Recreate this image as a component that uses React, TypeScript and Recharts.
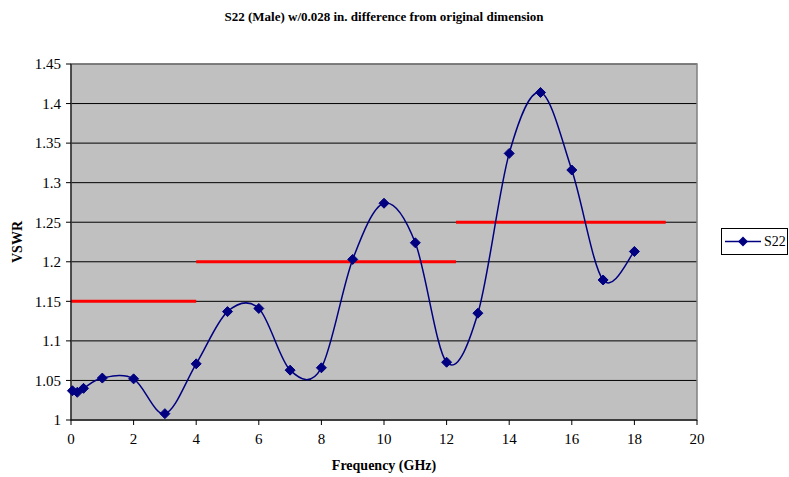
import {
  LineChart,
  Line,
  XAxis,
  YAxis,
  CartesianGrid,
  ReferenceLine,
  ReferenceArea,
  Legend,
} from 'recharts';

const freq = [0.045, 0.2, 0.4, 1, 2, 3, 4, 5, 6, 7, 8, 9, 10, 11, 12, 13, 14, 15, 16, 17, 18];
const vswr = [
  1.037, 1.035, 1.04, 1.053, 1.052, 1.008, 1.071, 1.137, 1.141, 1.063, 1.066,
  1.203, 1.274, 1.224, 1.073, 1.135, 1.337, 1.414, 1.316, 1.177, 1.213,
];
const xTicks = [0, 2, 4, 6, 8, 10, 12, 14, 16, 18, 20];
const yTicks = [1, 1.05, 1.1, 1.15, 1.2, 1.25, 1.3, 1.35, 1.4, 1.45];
// spec limit segments: [from GHz, to GHz, VSWR]
const limits = [
  [0, 4, 1.15],
  [4, 12.3, 1.2],
  [12.3, 19, 1.25],
];

const data = freq.map((f, i) => ({ f, s22: vswr[i] }));

const FONT = '"Liberation Serif", "Times New Roman", serif';
const NAVY = '#000080';

// Excel-style smoothed line (Catmull-Rom through the points)
const excelCurve = (context: any) => {
  let pts: number[][] = [];
  return {
    areaStart() {},
    areaEnd() {},
    lineStart() {
      pts = [];
    },
    point(x: number, y: number) {
      pts.push([+x, +y]);
    },
    lineEnd() {
      if (!pts.length) return;
      context.moveTo(pts[0][0], pts[0][1]);
      for (let i = 0; i < pts.length - 1; i++) {
        const p0 = pts[i - 1] || pts[i];
        const p1 = pts[i];
        const p2 = pts[i + 1];
        const p3 = pts[i + 2] || p2;
        context.bezierCurveTo(
          p1[0] + (p2[0] - p0[0]) / 6,
          p1[1] + (p2[1] - p0[1]) / 6,
          p2[0] - (p3[0] - p1[0]) / 6,
          p2[1] - (p3[1] - p1[1]) / 6,
          p2[0],
          p2[1]
        );
      }
    },
  };
};

const Diamond = (props: any) => {
  const { cx, cy } = props;
  if (cx == null || cy == null) return null;
  const r = 5;
  return (
    <polygon
      points={`${cx},${cy - r} ${cx + r},${cy} ${cx},${cy + r} ${cx - r},${cy}`}
      fill={NAVY}
      stroke={NAVY}
    />
  );
};

const LegendBox = () => (
  <svg width={67} height={27} style={{ display: 'block' }}>
    <rect x={0.5} y={0.5} width={66} height={26} fill="#fff" stroke="#000" />
    <line x1={4} y1={13.5} x2={40} y2={13.5} stroke={NAVY} strokeWidth={1.5} />
    <polygon points="22,8.5 27,13.5 22,18.5 17,13.5" fill={NAVY} />
    <text x={43} y={18} fontFamily={FONT} fontSize={14} fill="#000">
      S22
    </text>
  </svg>
);

export default function App() {
  return (
    <div style={{ position: 'absolute', left: 0, top: 0, width: 789, height: 477, background: '#fff' }}>
      <LineChart
        width={789}
        height={477}
        data={data}
        margin={{ top: 64, right: 25, bottom: 0, left: 0 }}
      >
        <CartesianGrid
          horizontal
          vertical={false}
          fill="#c0c0c0"
          stroke="#000"
          strokeOpacity={1}
        />
        <ReferenceArea
          x1={0}
          x2={20}
          y1={1}
          y2={1.45}
          fill="none"
          stroke="#808080"
          strokeWidth={1.5}
        />
        <XAxis
          dataKey="f"
          type="number"
          domain={[0, 20]}
          ticks={xTicks}
          interval={0}
          height={57}
          stroke="#000"
          tickSize={5}
          tickMargin={8}
          tick={{ fontFamily: FONT, fontSize: 15, fill: '#000' }}
        />
        <YAxis
          type="number"
          domain={[1, 1.45]}
          ticks={yTicks}
          interval={0}
          width={71}
          stroke="#000"
          tickSize={5}
          tickMargin={5}
          tick={{ fontFamily: FONT, fontSize: 15, fill: '#000' }}
        />
        {limits.map(([a, b, v], i) => (
          <ReferenceLine
            key={i}
            segment={[
              { x: a, y: v },
              { x: b, y: v },
            ]}
            stroke="#ff0000"
            strokeWidth={3}
          />
        ))}
        <Line
          dataKey="s22"
          name="S22"
          type={excelCurve as any}
          stroke={NAVY}
          strokeWidth={1.5}
          dot={<Diamond />}
          activeDot={false}
          isAnimationActive={false}
        />
        <Legend
          layout="horizontal"
          verticalAlign="middle"
          align="right"
          content={() => <LegendBox />}
          wrapperStyle={{ position: 'absolute', left: 721, top: 228, width: 67 }}
        />
        <text
          x={384}
          y={21}
          textAnchor="middle"
          fontFamily={FONT}
          fontSize={13}
          fontWeight="bold"
          fill="#000"
        >
          S22 (Male) w/0.028 in. difference from original dimension
        </text>
        <text
          x={384}
          y={470}
          textAnchor="middle"
          fontFamily={FONT}
          fontSize={14}
          fontWeight="bold"
          fill="#000"
        >
          Frequency (GHz)
        </text>
        <text
          x={0}
          y={0}
          transform="translate(22 242) rotate(-90)"
          textAnchor="middle"
          fontFamily={FONT}
          fontSize={14}
          fontWeight="bold"
          fill="#000"
        >
          VSWR
        </text>
      </LineChart>
    </div>
  );
}
